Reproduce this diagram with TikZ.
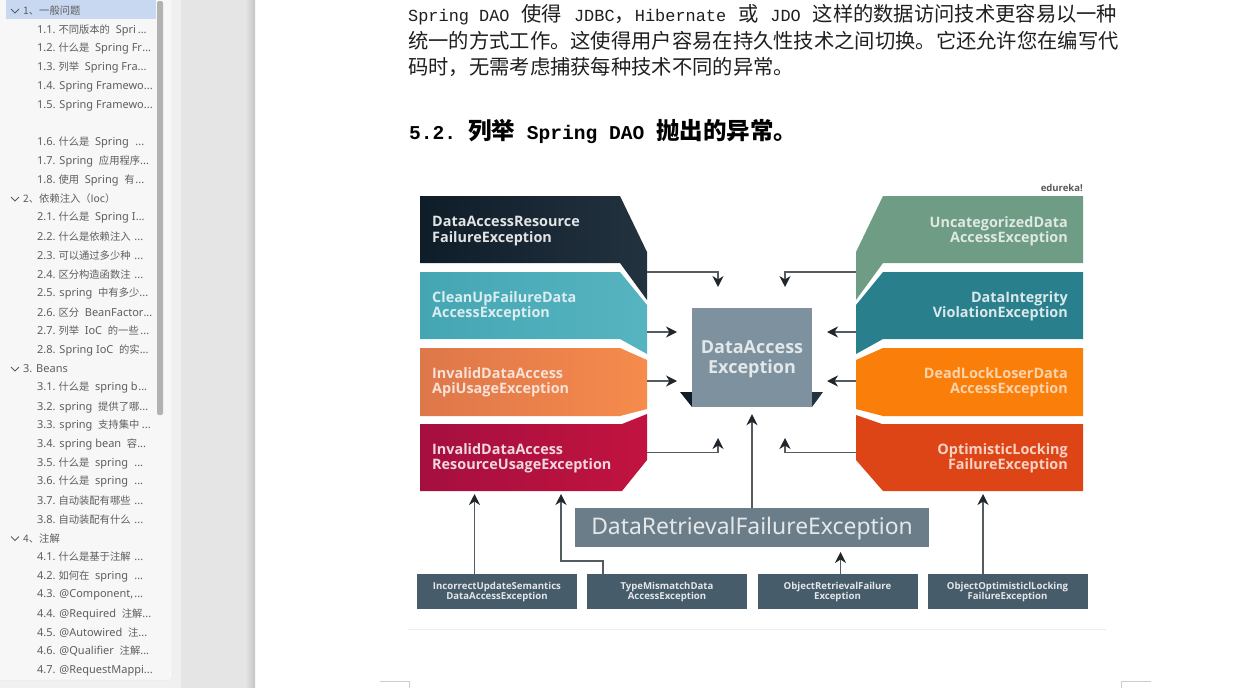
\documentclass[tikz,border=0pt]{standalone}
\usepackage{fontspec}
\usetikzlibrary{arrows.meta}
\newfontfamily\cjf{Noto Sans CJK SC}
\newfontfamily\lmo{Liberation Mono}
\newfontfamily\nsans{Noto Sans}
\newfontfamily\dgf{Open Sans}
\newcommand\lat[1]{{\lmo\fontsize{16.9}{20}\selectfont #1}}
\newcommand\latb[1]{{\lmo\bfseries\fontsize{19.6}{22}\selectfont #1}}
\newcommand\zh[1]{{\cjf\fontsize{10.3}{12}\selectfont #1}}
\definecolor{arrowgray}{HTML}{555C60}
\definecolor{tipdark}{HTML}{20262B}
\definecolor{sidetext}{HTML}{5E5E5E}
\definecolor{boxlow}{HTML}{475C6B}
\definecolor{selrow}{HTML}{C7D8F0}
\definecolor{ruleblue}{HTML}{E3EEF8}
\definecolor{cA}{HTML}{0F1D29}\definecolor{cB}{HTML}{22323E}
\definecolor{cC}{HTML}{45A6B3}\definecolor{cD}{HTML}{56B4C0}
\definecolor{cE}{HTML}{DE774A}\definecolor{cF}{HTML}{F68B4C}
\definecolor{cG}{HTML}{A50F40}\definecolor{cH}{HTML}{C2133F}
\definecolor{cI}{HTML}{6E9C84}
\definecolor{cJ}{HTML}{2A7F8C}
\definecolor{cK}{HTML}{F97F0A}
\definecolor{cL}{HTML}{DD4516}
\definecolor{cM}{HTML}{7D919E}
\definecolor{cN}{HTML}{6A7D88}
\tikzset{
  link/.style={draw=arrowgray,line width=1.4pt,-{Stealth[length=11pt,width=11pt,inset=3.5pt,color=tipdark]}},
  lefttext/.style={anchor=west,inner sep=0pt,align=left,font=\dgf\bfseries\fontsize{14.4}{15.2}\selectfont},
  righttext/.style={anchor=east,inner sep=0pt,align=right,font=\dgf\bfseries\fontsize{14.4}{15.2}\selectfont},
  lowbox/.style={fill=boxlow,text=white!85!boxlow,minimum width=160pt,minimum height=35pt,inner sep=0pt,align=center,font=\dgf\bfseries\fontsize{9.6}{10}\selectfont},
  sideitem/.style={anchor=west,inner sep=0pt,text=sidetext,font=\nsans\fontsize{11}{13}\selectfont},
  bodytext/.style={anchor=west,inner sep=0pt,text=black!88,font=\cjf\fontsize{20.3}{24}\selectfont},
  chev/.style={draw=sidetext,line width=0.8pt}
}
\begin{document}
\begin{tikzpicture}[x=1pt,y=-1pt]
\useasboundingbox (0,0) rectangle (1240,688);
% window background
\fill[white] (0,0) rectangle (1240,688);
\fill[black!6] (0,0) rectangle (181,688);
\fill[black!10] (181,0) rectangle (246,688);
\shade[left color=black!10,right color=black!23] (245,0) rectangle (255,688);
\fill[black!3,draw=black!9,line width=0.5pt,rounded corners=2pt] (-3,-3) rectangle (172,680);
\fill[selrow] (6,0) rectangle (156,19);
\fill[black!30,rounded corners=2pt] (157,1) rectangle (163,415);
% outline
\foreach \yy/\lab in {10/{\zh{1、一般问题}},198/{\zh{2、依赖注入（Ioc）}},368/{3. Beans},537.5/{\zh{4、注解}}}{
  \node[sideitem] at (23,\yy+1) {\lab};
  \draw[chev] (11,\yy-1) -- (15,\yy+3) -- (19,\yy-1);
}
\foreach \yy/\ee/\lab in {
29/146.5/{1.1.~\zh{不同版本的}~~Spri},
47.7/151/{1.2.~\zh{什么是}~~Spring Fr},
66.7/146/{1.3.~\zh{列举}~~Spring Fra},
85.5/149/{1.4. Spring Framewo},
104.5/149/{1.5. Spring Framewo},
142/144/{1.6.~\zh{什么是}~~Spring},
160.5/147/{1.7. Spring~~\zh{应用程序}},
179.5/144/{1.8.~\zh{使用}~~Spring~~\zh{有}},
217/144.5/{2.1.~\zh{什么是}~~Spring I},
236/143/{2.2.~\zh{什么是依赖注入}},
255/143/{2.3.~\zh{可以通过多少种}},
273.5/143/{2.4.~\zh{区分构造函数注}},
292.5/145/{2.5. spring~~\zh{中有多少}},
311.5/151/{2.6.~\zh{区分}~~BeanFactor},
330/149/{2.7.~\zh{列举}~~IoC~~\zh{的一些}},
349/146/{2.8. Spring IoC~~\zh{的实}},
386.5/147/{3.1.~\zh{什么是}~~spring b},
406/145.5/{3.2. spring~~\zh{提供了哪}},
424.5/150.5/{3.3. spring~~\zh{支持集中}},
443.5/142/{3.4. spring bean~~\zh{容}},
462.5/143/{3.5.~\zh{什么是}~~spring},
481/143/{3.6.~\zh{什么是}~~spring},
499.5/143/{3.7.~\zh{自动装配有哪些}},
518.5/143/{3.8.~\zh{自动装配有什么}},
556/143/{4.1.~\zh{什么是基于注解}},
575/143/{4.2.~\zh{如何在}~~spring},
594/143/{4.3. @Component,},
613/149/{4.4. @Required~~\zh{注解}},
632/145/{4.5. @Autowired~~\zh{注}},
650.5/147/{4.6. @Qualifier~~\zh{注解}},
669.5/150.5/{4.7. @RequestMappi}}{
  \node[sideitem] at (37,\yy+1) {\makebox[\dimexpr\ee pt-37pt\relax][l]{\lab\hfill\textbf{...}}};
}
% page text
\node[bodytext] (line1) at (408,15) {\lat{Spring DAO~}\kern1.8pt 使得\kern1.8pt\lat{~JDBC}，\lat{Hibernate~}\kern1.8pt 或\kern1.8pt\lat{~JDO~}\kern1.8pt 这样的数据访问技术更容易以一种};
\node[bodytext] (line2) at (408,41) {统一的方式工作。这使得用户容易在持久性技术之间切换。它还允许您在编写代};
\node[bodytext] (line3) at (408,67) {码时，无需考虑捕获每种技术不同的异常。};
\node[bodytext,text=black,font=\cjf\bfseries\fontsize{23.5}{26}\selectfont] (title) at (409,131.5) {\latb{5.2.~}列举\latb{~Spring DAO~}抛出的异常。};
% left blocks
\shade[left color=cA,right color=cB] (420,196) -- (620,196) -- (647,252) -- (647,300) -- (620,263) -- (420,263) -- cycle;
\shade[left color=cC,right color=cD] (420,272) -- (620,272) -- (647,305) -- (647,354) -- (620,339) -- (420,339) -- cycle;
\shade[left color=cE,right color=cF] (420,348) -- (620,348) -- (647,360) -- (647,409) -- (620,416) -- (420,416) -- cycle;
\shade[left color=cG,right color=cH] (420,424) -- (622,424) -- (647,414) -- (647,460) -- (622,491) -- (420,491) -- cycle;
% right blocks
\fill[cI] (883,196) -- (1083,196) -- (1083,263) -- (883,263) -- (856,300) -- (856,252) -- cycle;
\fill[cJ] (883,272) -- (1083,272) -- (1083,339) -- (883,339) -- (856,354) -- (856,305) -- cycle;
\fill[cK] (883,348) -- (1083,348) -- (1083,416) -- (883,416) -- (856,409) -- (856,360) -- cycle;
\fill[cL] (882,424) -- (1083,424) -- (1083,491) -- (883,491) -- (856,460) -- (856,415) -- cycle;
% labels
\node[lefttext,text=white!88!cA] (a1) at (432,231) {DataAccessResource\\FailureException};
\node[lefttext,text=white!80!cC] (a2) at (432,306.5) {CleanUpFailureData\\AccessException};
\node[lefttext,text=white!78!cE] (a3) at (432,382) {InvalidDataAccess\\ApiUsageException};
\node[lefttext,text=white!84!cG] (a4) at (432,458) {InvalidDataAccess\\ResourceUsageException};
\node[righttext,text=white!78!cI] (r1) at (1068,231) {UncategorizedData\\AccessException};
\node[righttext,text=white!82!cJ] (r2) at (1068,306.5) {DataIntegrity\\ViolationException};
\node[righttext,text=white!66!cK] (r3) at (1068,382) {DeadLockLoserData\\AccessException};
\node[righttext,text=white!75!cL] (r4) at (1068,458) {OptimisticLocking\\FailureException};
\node[anchor=east,inner sep=0pt,text=black!65,font=\dgf\bfseries\fontsize{9.5}{10}\selectfont] (brand) at (1083,188) {edureka!};
% centre
\fill[cA] (680,392) -- (692,392) -- (692,407) -- cycle;
\fill[cB] (812,392) -- (823,392) -- (812,407) -- cycle;
\node[fill=cM,text=white!78!cM,minimum width=120pt,minimum height=99pt,inner sep=0pt,font=\dgf\bfseries\fontsize{18}{19.5}\selectfont] (core) at (752,357.5) {\raisebox{-2pt}[\height][\depth]{\begin{tabular}{@{}c@{}}DataAccess\\Exception\end{tabular}}};
\node[fill=cN,text=white!82!cN,minimum width=354pt,minimum height=39pt,inner sep=0pt,font=\nsans\fontsize{22.9}{26}\selectfont] (retr) at (752,527.5) {\raisebox{-1.5pt}[\height][\depth]{DataRetrievalFailureException}};
% bottom boxes
\node[lowbox] (b1) at (497,591.5) {IncorrectUpdateSemantics\\DataAccessException};
\node[lowbox] (b2) at (667,591.5) {TypeMismatchData\\AccessException};
\node[lowbox] (b3) at (837.5,591.5) {ObjectRetrievalFailure\\Exception};
\node[lowbox] (b4) at (1007.5,591.5) {ObjectOptimisticlLocking\\FailureException};
% connector ends
\coordinate (o1) at (647,272); \coordinate (e1) at (718,287);
\coordinate (o2) at (647,332); \coordinate (e2) at (677,332);
\coordinate (o3) at (647,381); \coordinate (e3) at (677,381);
\coordinate (o4) at (647,452.5); \coordinate (e4) at (718,438);
\coordinate (p1) at (856,272); \coordinate (f1) at (785,287);
\coordinate (p2) at (856,332); \coordinate (f2) at (827,332);
\coordinate (p3) at (856,381); \coordinate (f3) at (827,381);
\coordinate (p4) at (856,452.5); \coordinate (f4) at (785,438);
\coordinate (u1) at (474.5,494); \coordinate (u2) at (561,494);
\coordinate (u3) at (983,494);
\draw[link] (o1) -| (e1);
\draw[link] (o2) -- (e2);
\draw[link] (o3) -- (e3);
\draw[link] (o4) -| (e4);
\draw[link] (p1) -| (f1);
\draw[link] (p2) -- (f2);
\draw[link] (p3) -- (f3);
\draw[link] (p4) -| (f4);
\draw[link] (retr.north) -- ([yshift=-7pt]core.south);
\draw[link] (b1.north -| u1) -- (u1);
\draw[link] (b2.north -| 603,0) -- (603,561) -| (u2);
\draw[link] (b3.north -| 840.5,0) -- (840.5,552);
\draw[link] (b4.north -| u3) -- (u3);
% page rule and corner marks
\draw[ruleblue,line width=0.8pt] (408,629.5) -- (1106,629.5);
\draw[black!20,line width=0.8pt] (380,681.5) -- (409,681.5) -- (409,688);
\draw[black!20,line width=0.8pt] (1151,681.5) -- (1121,681.5) -- (1121,688);
\end{tikzpicture}
\end{document}
